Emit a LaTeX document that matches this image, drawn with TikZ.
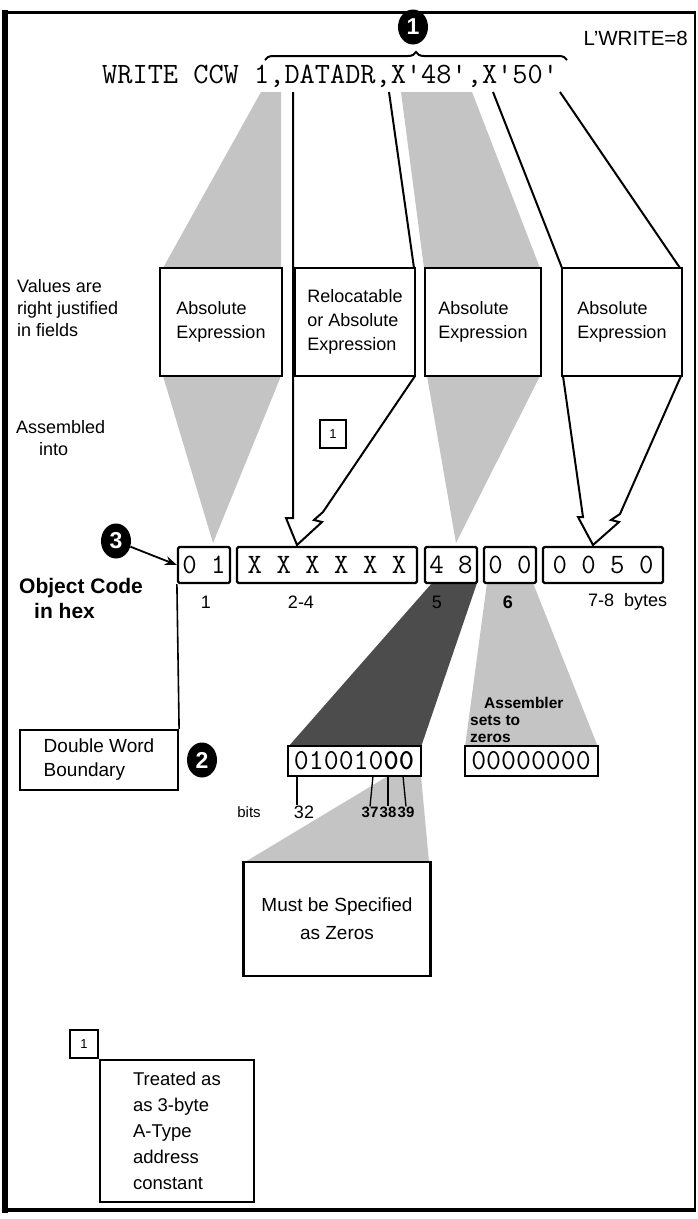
\documentclass[tikz,border=0pt]{standalone}
\usepackage{fontspec}
\setmainfont{Liberation Sans}
\usetikzlibrary{arrows.meta,positioning,shapes.geometric,decorations.pathreplacing}

\begin{document}
\begin{tikzpicture}[
    x=1pt,
    y=-1pt,
    lbl/.style={font=\fontsize{18}{22}\selectfont, inner sep=0pt, align=left},
    hdr/.style={font=\bfseries\fontsize{21}{25}\selectfont, inner sep=0pt, align=left},
    expr/.style={draw, line width=2.2pt, fill=white, minimum height=108pt, inner sep=0pt, align=left, font=\fontsize{18}{24}\selectfont},
    hexbox/.style={draw, line width=2.2pt, fill=white, rounded corners=1.5pt, minimum height=36pt, inner sep=0pt, font=\ttfamily\fontsize{28}{28}\selectfont},
    bitbox/.style={draw, line width=2pt, fill=white, minimum width=133pt, minimum height=30pt, inner sep=0pt, font=\ttfamily\fontsize{29}{29}\selectfont},
    badge/.style={ellipse, fill=black, text=white, minimum width=30pt, minimum height=35pt, inner sep=0pt, font=\bfseries\fontsize{23}{23}\selectfont},
    note/.style={draw, line width=1.6pt, fill=white, minimum width=26pt, minimum height=28pt, inner sep=0pt, font=\fontsize{13}{13}\selectfont},
    halftone/.style={fill=black!23},
    wire/.style={line width=2pt, line join=miter}
]
\useasboundingbox[fill=white] (0,0) rectangle (698,1219);

% frame
\draw[line width=3pt] (3,12) -- (696,12);
\draw[line width=5.5pt] (5,10) -- (5,1213);
\draw[line width=2pt] (695,12) -- (695,1212);
\draw[line width=4pt] (3,1210) -- (696,1210);

% source statement
\node[badge] (c1) at (413,27) {1};
\node[lbl, anchor=east, font=\fontsize{20.5}{20.5}\selectfont] (len) at (688,38) {L'WRITE=8};
\draw[line width=2pt, decorate, decoration={brace, amplitude=8pt}] (265,60) -- (567,60);
\node[anchor=base west, inner sep=0pt, font=\ttfamily\fontsize{29.5}{30}\selectfont] (src) at (102,83) {WRITE CCW 1,DATADR,X'48',X'50'};

% operand 1 and 3: shaded funnels
\fill[halftone] (261,92) -- (281,92) -- (281,376) -- (213,543) -- (163,376) -- (163,268) -- cycle;
\fill[halftone] (401,92) -- (472,92) -- (540,268) -- (540,376) -- (456,543) -- (427,376) -- (424,268) -- cycle;

% operand 2 and 4: open arrows
\draw[wire] (293,92) -- (293,518) -- (286,518) -- (297,545) -- (322,522) -- (314,520) -- (323,512) -- (415,376);
\draw[wire] (389,92) -- (414,268);
\draw[wire] (493,92) -- (562,268);
\draw[wire] (560,92) -- (680,268);
\draw[wire] (563,376) -- (583,517) -- (578,517) -- (593,545) -- (619,522) -- (611,520) -- (620,514) -- (681,376);

\node[expr, minimum width=122pt] (ea) at (221,322) {Absolute\\Expression};
\node[expr, minimum width=120pt] (eb) at (355,322) {Relocatable\\or Absolute\\Expression};
\node[expr, minimum width=116pt] (ec) at (483,322) {Absolute\\Expression};
\node[expr, minimum width=120pt] (ed) at (622,322) {Absolute\\Expression};

\node[lbl, anchor=north west] (vals) at (17,279) {Values are\\right justified\\in fields};
\node[lbl, anchor=north west] (asm) at (16,420) {Assembled\\\hspace*{23pt}into};
\node[note] (ref) at (333,434) {1};

% object code
\fill[black!70] (432,583) -- (477,583) -- (421,747) -- (288,747) -- cycle;
\fill[halftone] (487,583) -- (533,583) -- (598,747) -- (465,747) -- cycle;
\fill[halftone] (388,776) -- (421,776) -- (429,862) -- (245,862) -- cycle;

\node[hexbox, minimum width=52pt] (b01) at (204,565) {0 1};
\node[hexbox, minimum width=180pt] (bxx) at (327,565) {X X X X X X};
\node[hexbox, minimum width=52pt] (b48) at (451,565) {4 8};
\node[hexbox, minimum width=52pt] (b00) at (510,565) {0 0};
\node[hexbox, minimum width=120pt] (b50) at (603,565) {0 0 5 0};

\node[badge] (c3) at (116,541) {3};
\draw[-{Stealth[length=12pt,width=9pt]}, line width=1.8pt] (c3) -- (b01.west);
\node[hdr, anchor=north west] (obj) at (19,578) {Object Code\\\hspace*{15pt}in hex};

\node[lbl] (n1) at (206,602) {1};
\node[lbl] (n24) at (301,602) {2-4};
\node[lbl] (n5) at (437,602) {5};
\node[lbl] (n6) at (508,602) {\bfseries 6};
\node[lbl, anchor=west] (n78) at (588,602) {7-8\ \ bytes};

\node[draw, line width=2.2pt, fill=white, minimum width=158pt, minimum height=60pt, inner sep=0pt, align=left, font=\fontsize{19}{24}\selectfont] (dwb) at (99,760) {Double Word\\Boundary};
\draw[line width=1.6pt] (b01.south west) -- (dwb.north east);
\node[badge] (c2) at (202,760) {2};

\node[hdr, font=\bfseries\fontsize{15.5}{17}\selectfont, anchor=north west] (sets) at (470,697) {\hspace*{14pt}Assembler\\sets to\\zeros};
\node[bitbox] (bits) at (354,761) {010010\textbf{00}};
\node[bitbox] (zero) at (531,761) {00000000};

% bit numbers
\node[lbl, font=\fontsize{15}{15}\selectfont] (wbits) at (249,812) {bits};
\node[lbl] (w32) at (304,812) {32};
\node[lbl, font=\bfseries\fontsize{15}{15}\selectfont] (w37) at (370,812) {37};
\node[lbl, font=\bfseries\fontsize{15}{15}\selectfont] (w38) at (388,812) {38};
\node[lbl, font=\bfseries\fontsize{15}{15}\selectfont] (w39) at (406,812) {39};
\coordinate (t32) at (297,776);
\coordinate (t37) at (373,776);
\coordinate (t38) at (388,776);
\coordinate (t39) at (403,776);
\draw[line width=1.3pt] (t32) -- (w32.north -| t32);
\draw[line width=1.3pt] (t37) -- (w37.north);
\draw[line width=1.3pt] (t38) -- (w38.north);
\draw[line width=1.3pt] (t39) -- (w39.north);

\node[draw, line width=2.2pt, fill=white, minimum width=187pt, minimum height=114pt, align=center, font=\fontsize{19}{28}\selectfont] (must) at (337,919) {Must be Specified\\as Zeros};

% footnote
\node[note, minimum width=28pt] (fn) at (84,1044) {1};
\node[draw, line width=2.2pt, fill=white, anchor=north west, minimum width=154pt, minimum height=142pt, inner sep=0pt, align=left, font=\fontsize{18.5}{26}\selectfont] (fnbox) at (fn.south east) {Treated as\\as 3-byte\\A-Type\\address\\constant};
\end{tikzpicture}
\end{document}
